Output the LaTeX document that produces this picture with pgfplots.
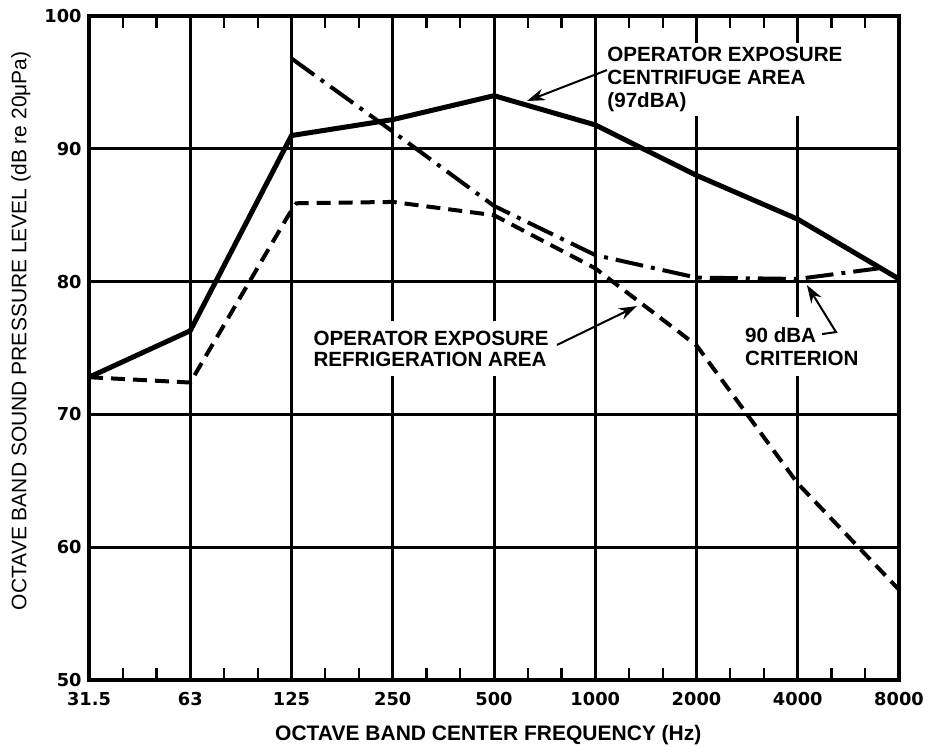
\documentclass[border=0pt]{standalone}
\usepackage{pgfplots}
\pgfplotsset{compat=1.18}
\usepackage{fontspec}
\setmainfont{Liberation Sans}
\usetikzlibrary{arrows.meta}
\newfontfamily\tickfont{DejaVu Sans Bold}
\newfontfamily\annfont{Liberation Sans Bold}
\newfontfamily\ylabfont{Liberation Sans}
\begin{document}
\begin{tikzpicture}
\begin{axis}[
  scale only axis, width=405pt, height=332pt,
  xmin=0, xmax=8, ymin=50, ymax=100,
  xtick={0,...,8},
  xticklabels={31.5,63,125,250,500,1000,2000,4000,8000},
  ytick={50,60,...,100},
  minor x tick num=2,
  major tick length=0pt, minor tick length=6pt,
  xtick pos=both, ytick pos=left,
  tick align=inside,
  grid=major,
  major grid style={line width=1.5pt, black},
  axis line style={line width=2pt},
  minor tick style={line width=1.2pt, black},
  /pgf/number format/assume math mode=true,
  xticklabel style={font=\tickfont\fontsize{8.9}{10}\selectfont, anchor=north, inner sep=0pt, yshift=-6pt},
  yticklabel style={font=\tickfont\fontsize{8.9}{10}\selectfont, anchor=east, inner sep=0pt, xshift=-3.5pt},
  clip=false,
]
\addplot[black, line width=2.5pt, line join=round] coordinates {
 (0,72.8) (1,76.3) (2,91) (3,92.2) (4,94) (5,91.8) (6,88) (7,84.7) (8,80.2)};
\addplot[black, line width=2pt, dash pattern=on 7pt off 4pt] coordinates {
 (0,72.8) (1,72.4) (1.97,85.0) (2.05,85.9) (3,86) (4,85) (5,81) (6,75.2) (7,64.8) (8,56.8)};
\addplot[black, line width=2pt, dash pattern=on 14pt off 4pt on 2pt off 4pt] coordinates {
 (2,96.8) (3,91.3) (4,85.7) (5,82) (6,80.3) (7,80.2) (7.8,81.0)};

\node[anchor=north west, align=left, fill=white, inner sep=2pt,
      font=\annfont\fontsize{10.3}{11.5}\selectfont]
  at (axis cs:5.077,97.97) {OPERATOR EXPOSURE\\CENTRIFUGE AREA\\(97dBA)};
\node[align=left, fill=white, inner xsep=3pt, inner ysep=5pt,
      font=\annfont\fontsize{10.3}{10.5}\selectfont]
  at (axis cs:3.378,74.96) {OPERATOR EXPOSURE\\REFRIGERATION AREA};
\node[align=left, fill=white, inner xsep=3pt, inner ysep=5pt,
      font=\annfont\fontsize{10.3}{11.5}\selectfont]
  at (axis cs:7.04,75.11) {90 dBA\\CRITERION};

\draw[line width=1pt, -{Stealth[length=9pt,width=6pt]}] (axis cs:5.116,95.93) -- (axis cs:4.326,93.6);
\draw[line width=1pt, -{Stealth[length=9pt,width=6pt]}] (axis cs:4.622,75.23) -- (axis cs:5.412,78.16);
\draw[line width=1pt, -{Stealth[length=9pt,width=6pt]}] (axis cs:7.24,76.05) -- (axis cs:7.378,76.2) -- (axis cs:7.091,79.74);

\node[rotate=90, font=\ylabfont\fontsize{10.5}{12}\selectfont] at ([xshift=-34pt]rel axis cs:0,0.526)
  {OCTAVE BAND SOUND PRESSURE LEVEL (dB re 20μPa)};
\node[font=\annfont\fontsize{10.5}{12}\selectfont] at ([yshift=-27.5pt]rel axis cs:0.493,0)
  {OCTAVE BAND CENTER FREQUENCY (Hz)};
\end{axis}
\pgfresetboundingbox
\path (-44.5pt,-33pt) rectangle (420pt,340pt);
\end{tikzpicture}
\end{document}
